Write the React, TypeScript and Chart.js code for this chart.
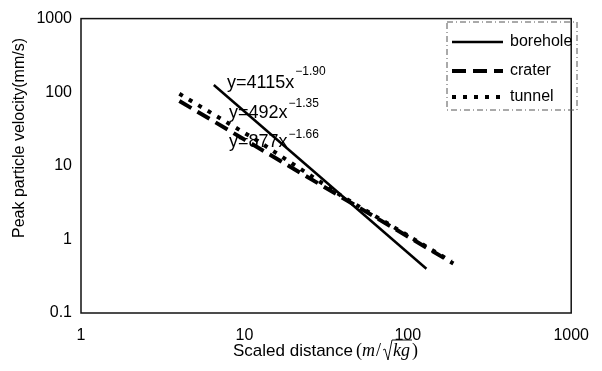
import React, { useEffect, useRef } from "react";
import { Chart, registerables } from "chart.js";
Chart.register(...registerables);

// ---- data ----
const seriesNames = ["borehole", "crater", "tunnel"];
const boreholeX = [6.5, 130];
const boreholeY = [125, 0.4];
const craterX = [4, 190];
const craterY = [76, 0.47];
const tunnelX = [4, 12, 40, 185];
const tunnelY = [95, 22, 3.8, 0.5];
const xTicks = [1, 10, 100, 1000];
const yTicks = [0.1, 1, 10, 100, 1000];
const eqCoefs = ["4115", "492", "877"];
const eqExps = ["\u22121.90", "\u22121.35", "\u22121.66"];

const SANS = '"Liberation Sans", Arial, sans-serif';
const SERIF = '"Liberation Serif", "Times New Roman", serif';

const pts = (xs: number[], ys: number[]) => xs.map((x, i) => ({ x, y: ys[i] }));

const overlay = {
  id: "overlay",
  afterDraw(chart: any) {
    const ctx = chart.ctx as CanvasRenderingContext2D;
    const a = chart.chartArea;
    ctx.save();
    // frame
    ctx.strokeStyle = "#111";
    ctx.lineWidth = 1.5;
    ctx.setLineDash([]);
    ctx.strokeRect(a.left, a.top, a.right - a.left, a.bottom - a.top);

    // equations
    const eqPos = [
      [227, 88, 75],
      [229, 118, 107],
      [229, 147, 138],
    ];
    ctx.fillStyle = "#000";
    ctx.textAlign = "left";
    ctx.textBaseline = "alphabetic";
    eqCoefs.forEach((c, i) => {
      const [x, b, sb] = eqPos[i];
      ctx.font = `18px ${SANS}`;
      const s = `y=${c}x`;
      ctx.fillText(s, x, b);
      const w = ctx.measureText(s).width;
      ctx.font = `12px ${SANS}`;
      ctx.fillText(eqExps[i], x + w + 1, sb);
    });

    // y title
    ctx.save();
    ctx.translate(20, 138);
    ctx.rotate(-Math.PI / 2);
    ctx.font = `16px ${SANS}`;
    ctx.textAlign = "center";
    ctx.textBaseline = "middle";
    ctx.fillText("Peak particle velocity(mm/s)", 0, 0);
    ctx.restore();

    // x title
    let x = 233;
    const base = 356;
    ctx.font = `17px ${SANS}`;
    ctx.fillText("Scaled distance", x, base);
    x += ctx.measureText("Scaled distance").width + 3;
    const piece = (t: string, f: string) => {
      ctx.font = f;
      ctx.fillText(t, x, base);
      const w = ctx.measureText(t).width;
      x += w;
      return w;
    };
    piece("(", `18px ${SERIF}`);
    piece("m", `italic 18px ${SERIF}`);
    x += 1;
    piece("/", `18px ${SERIF}`);
    x += 2;
    // radical sign
    ctx.beginPath();
    ctx.lineWidth = 1;
    ctx.moveTo(x, base - 6);
    ctx.lineTo(x + 2, base - 7);
    ctx.lineTo(x + 5, base + 4);
    ctx.lineTo(x + 9, base - 16);
    const kStart = x + 9;
    x += 10;
    const kw = piece("kg", `italic 18px ${SERIF}`);
    ctx.lineTo(kStart + kw + 3, base - 16);
    ctx.stroke();
    x += 2;
    piece(")", `18px ${SERIF}`);

    // legend
    ctx.strokeStyle = "#555";
    ctx.lineWidth = 1;
    ctx.setLineDash([6, 3, 1, 3]);
    ctx.strokeRect(447, 22, 130, 88);
    const rows = [42, 71, 97];
    chart.data.datasets.forEach((ds: any, i: number) => {
      ctx.strokeStyle = "#000";
      ctx.lineWidth = ds.borderWidth;
      ctx.lineCap = "butt";
      ctx.setLineDash(ds.borderDash || []);
      ctx.beginPath();
      ctx.moveTo(452, rows[i]);
      ctx.lineTo(503, rows[i]);
      ctx.stroke();
      ctx.setLineDash([]);
      ctx.fillStyle = "#000";
      ctx.font = `16px ${SANS}`;
      ctx.textBaseline = "middle";
      ctx.textAlign = "left";
      ctx.fillText(ds.label, 510, rows[i]);
    });
    ctx.restore();
  },
};

export default function App() {
  const ref = useRef<HTMLCanvasElement | null>(null);
  useEffect(() => {
    if (!ref.current) return;
    const chart = new Chart(ref.current, {
      type: "line",
      data: {
        datasets: [
          {
            label: seriesNames[0],
            data: pts(boreholeX, boreholeY),
            borderColor: "#000",
            borderWidth: 2.5,
            pointRadius: 0,
            tension: 0,
          },
          {
            label: seriesNames[1],
            data: pts(craterX, craterY),
            borderColor: "#000",
            borderWidth: 4,
            borderDash: [14, 7],
            pointRadius: 0,
            tension: 0,
          },
          {
            label: seriesNames[2],
            data: pts(tunnelX, tunnelY),
            borderColor: "#000",
            borderWidth: 4,
            borderDash: [4, 7],
            pointRadius: 0,
            tension: 0,
          },
        ],
      },
      options: {
        responsive: false,
        animation: false,
        layout: { padding: { top: 15, right: 18, left: 0, bottom: 0 } },
        plugins: { legend: { display: false }, tooltip: { enabled: false } },
        scales: {
          x: {
            type: "logarithmic",
            min: 1,
            max: 1000,
            afterBuildTicks: (s: any) => {
              s.ticks = xTicks.map((v) => ({ value: v }));
            },
            afterFit: (s: any) => {
              s.height = 58;
            },
            ticks: {
              autoSkip: false,
              maxRotation: 0,
              padding: 13,
              color: "#000",
              font: { family: SANS, size: 16 },
              callback: (v: any) => String(v),
            },
            grid: { display: false, drawTicks: false },
            border: { display: false },
          },
          y: {
            type: "logarithmic",
            min: 0.1,
            max: 1000,
            afterBuildTicks: (s: any) => {
              s.ticks = yTicks.map((v) => ({ value: v }));
            },
            afterFit: (s: any) => {
              s.width = 81;
            },
            ticks: {
              autoSkip: false,
              padding: 9,
              color: "#000",
              font: { family: SANS, size: 16 },
              callback: (v: any) => String(v),
            },
            grid: { display: false, drawTicks: false },
            border: { display: false },
          },
        },
      },
      plugins: [overlay],
    } as any);
    return () => chart.destroy();
  }, []);
  return (
    <div style={{ position: "absolute", left: 0, top: 0, width: 602, height: 371, background: "#fff" }}>
      <canvas ref={ref} width={602} height={371} />
    </div>
  );
}
